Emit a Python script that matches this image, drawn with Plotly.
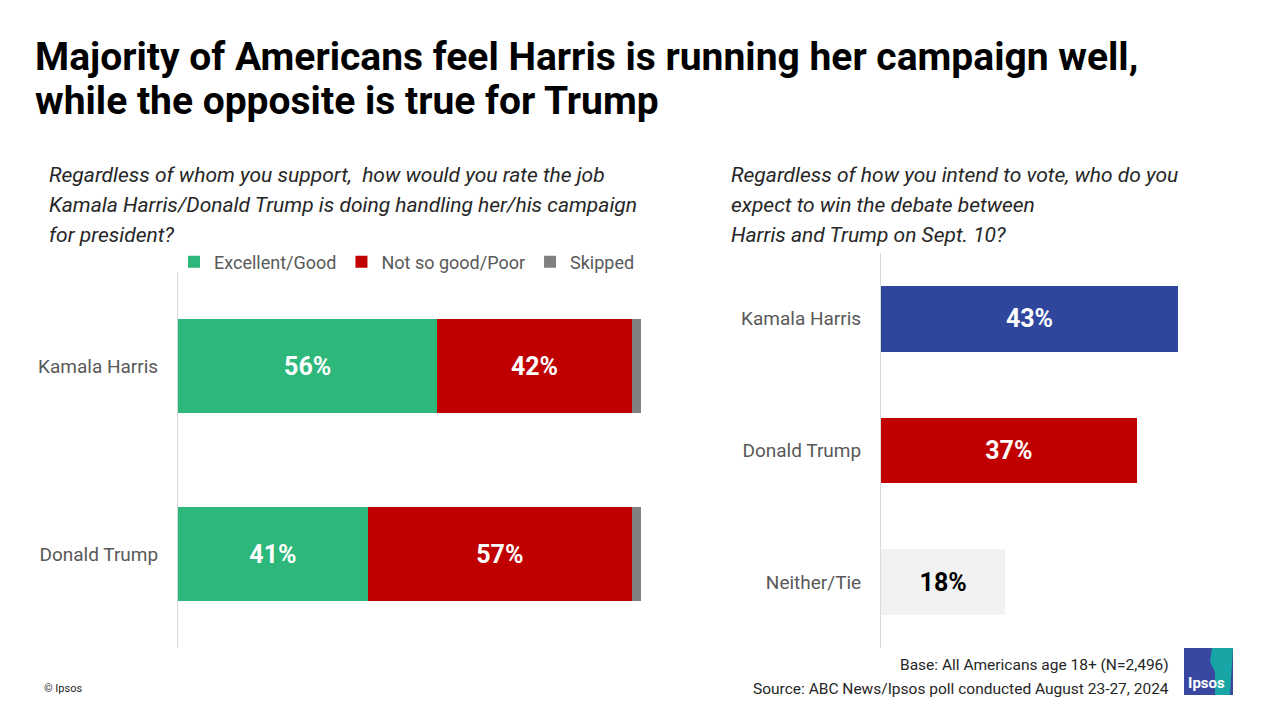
import plotly.graph_objects as go

# left panel: campaign rating
people = ["Donald Trump", "Kamala Harris"]
good = [41, 56]
poor = [57, 42]
skipped = [2, 2]

# right panel: expected debate winner
winners = ["Neither/Tie", "Donald Trump", "Kamala Harris"]
win_pct = [18, 37, 43]
win_colors = ["#f2f2f2", "#c00000", "#2e469c"]
win_text_colors = ["#000000", "#ffffff", "#ffffff"]

W, H = 1280, 720
def px(x):
    return x / W
def py(y):
    return 1 - y / H

fig = go.Figure()

lbl_font = dict(family="Roboto", size=25, color="white", weight="bold")

fig.add_trace(go.Bar(y=people, x=good, orientation="h", name="Excellent/Good",
                     marker_color="#2db77a", text=[f"{v}%" for v in good],
                     textposition="inside", insidetextanchor="middle",
                     textfont=lbl_font, width=0.5))
fig.add_trace(go.Bar(y=people, x=poor, orientation="h", name="Not so good/Poor",
                     marker_color="#c00000", text=[f"{v}%" for v in poor],
                     textposition="inside", insidetextanchor="middle",
                     textfont=lbl_font, width=0.5))
fig.add_trace(go.Bar(y=people, x=skipped, orientation="h", name="Skipped",
                     marker_color="#808080", width=0.5))

fig.add_trace(go.Bar(y=winners, x=win_pct, orientation="h", showlegend=False,
                     marker_color=win_colors, text=[f"{v}%" for v in win_pct],
                     textposition="inside", insidetextanchor="middle",
                     textfont=dict(family="Roboto", size=25, color=win_text_colors, weight="bold"),
                     width=0.5, xaxis="x2", yaxis="y2"))

for tr in fig.data:
    tr.marker.line.width = 0

axis_common = dict(showgrid=False, zeroline=False, showticklabels=False, fixedrange=True)
ycommon = dict(showgrid=False, zeroline=False, showline=True, linecolor="#d9d9d9", linewidth=1,
               ticks="", ticklabelstandoff=15,
               tickfont=dict(family="Roboto", size=19, color="#595959"))

fig.update_layout(
    width=W, height=H, margin=dict(l=0, r=0, t=0, b=0),
    paper_bgcolor="white", plot_bgcolor="white",
    barmode="stack", showlegend=True,
    xaxis=dict(domain=[px(178), px(641)], range=[0, 100], **axis_common),
    yaxis=dict(domain=[py(648), py(272)], range=[-0.5, 1.5], anchor="x", **ycommon),
    xaxis2=dict(domain=[px(881), px(1200)], range=[0, 319 / 6.907], anchor="y2", **axis_common),
    yaxis2=dict(domain=[py(648), py(253)], range=[-0.5, 2.5], anchor="x2", **ycommon),
    legend=dict(orientation="h", x=px(640), xanchor="right", y=py(262), yanchor="middle",
                font=dict(family="Roboto", size=18, color="#595959"), traceorder="normal",
                itemwidth=30, bgcolor="rgba(0,0,0,0)"),
    font=dict(family="Roboto"),
)

texts = [
    (36, 57, "<b>Majority of Americans feel Harris is running her campaign well,</b>", 39, "#000000", "left"),
    (36, 101, "<b>while the opposite is true for Trump</b>", 39, "#000000", "left"),
    (50, 175, "<i>Regardless of whom you support,  how would you rate the job</i>", 21, "#262626", "left"),
    (50, 205, "<i>Kamala Harris/Donald Trump is doing handling her/his campaign</i>", 21, "#262626", "left"),
    (50, 235, "<i>for president?</i>", 21, "#262626", "left"),
    (732, 175, "<i>Regardless of how you intend to vote, who do you</i>", 21, "#262626", "left"),
    (732, 205, "<i>expect to win the debate between</i>", 21, "#262626", "left"),
    (732, 235, "<i>Harris and Trump on Sept. 10?</i>", 21, "#262626", "left"),
    (45, 688, "© Ipsos", 11, "#262626", "left"),
    (1171, 665, "Base: All Americans age 18+ (N=2,496)", 15.5, "#262626", "right"),
    (1171, 689, "Source: ABC News/Ipsos poll conducted August 23-27, 2024", 15.5, "#262626", "right"),
]
for x, y, text, size, color, anchor in texts:
    fig.add_annotation(x=px(x), y=py(y), xref="paper", yref="paper",
                       text=text, showarrow=False, xanchor=anchor, yanchor="middle",
                       xshift=-3 if anchor == "left" else 0,
                       font=dict(family="Roboto", size=size, color=color))

# Ipsos logo
fig.add_shape(type="rect", xref="paper", yref="paper", x0=px(1184), x1=px(1233),
              y0=py(695), y1=py(648), fillcolor="#3848a0", line_width=0, layer="below")
fig.add_shape(type="path", xref="paper", yref="paper",
              path=f"M {px(1212)} {py(648)} L {px(1233)} {py(648)} L {px(1230)} {py(695)} "
                   f"L {px(1215)} {py(695)} L {px(1215)} {py(672)} L {px(1210)} {py(662)} Z",
              fillcolor="#17a5a5", line_width=0, layer="below")
fig.add_annotation(x=px(1186), y=py(683), xref="paper", yref="paper", text="<b>Ipsos</b>",
                   showarrow=False, xanchor="left", yanchor="middle",
                   font=dict(family="Roboto", size=15, color="white"))

fig.write_html("out.html", config={"displayModeBar": False},
               post_script="document.body.style.margin='0';")
